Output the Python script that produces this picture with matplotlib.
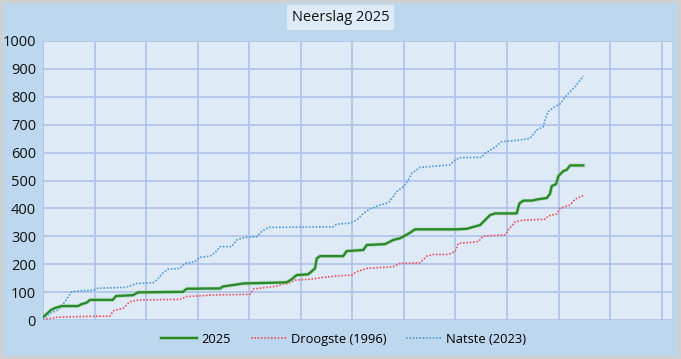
import matplotlib.pyplot as plt
import matplotlib.patheffects as pe
import numpy as np

# Cumulative precipitation (mm), x = day of year
days_2025 = [0, 4.7, 7, 10.9, 20.4, 22.5, 25.4, 27.3, 40.6, 42.5, 52.4, 55.3, 81.5, 83.6, 97.2,
             103, 104.7, 113.5, 116.4, 141.8, 144.7, 147.6, 154.4, 158.3, 159.3, 161.2, 174.7,
             176.7, 186.4, 188.4, 199, 201.9, 203.8, 207.7, 209.7, 213.6, 216.5, 240.7, 246.6,
             252.4, 254.3, 257.2, 260.1, 263, 275.6, 277.2, 279.5, 284.4, 288.2, 293.1, 295,
             296, 298.5, 299.9, 302.8, 304.7, 306.7, 314.4]
rain_2025 = [10, 36, 43, 50, 50, 57, 62, 72, 72, 86, 89, 99, 101, 112, 113,
             113, 120, 128, 131, 135, 146, 161, 164, 185, 221, 229, 229,
             247, 251, 269, 272, 281, 287, 293, 299, 313, 325, 325, 327,
             337, 340, 358, 376, 382, 382, 418, 428, 428, 433, 437, 452,
             480, 487, 516, 534, 538, 554, 554]

days_1996 = [0, 8, 26.4, 39, 40.9, 46.7, 50.6, 56.4, 79.7, 83.6, 100.1, 120.5, 122.4, 130.2,
             136.9, 138.9, 142.7, 146.6, 155.4, 163.1, 172.8, 179.6, 182.5, 188.4, 203.8, 207.7,
             219.4, 223.3, 227.1, 235.8, 239.7, 241.7, 248.5, 253.3, 256.2, 268.8, 270.8, 274.7,
             279.5, 292.1, 294.0, 298.9, 300.8, 306.7, 309.6, 314.4]
rain_1996 = [0, 10, 13, 14, 33, 42, 66, 72, 74, 84, 90, 92, 111, 117,
             122, 128, 131, 143, 146, 153, 159, 161, 173, 185, 191, 203,
             205, 229, 235, 235, 245, 275, 278, 281, 301, 305, 323, 352,
             358, 361, 373, 380, 400, 412, 433, 446]

days_2023 = [0, 4.1, 8.9, 12.8, 16.7, 20.5, 29.3, 32.2, 47.7, 50.6, 54.5, 64.2, 66.2, 70, 72.9,
             79.7, 82.6, 88.4, 91.4, 97.2, 100.1, 103, 109.8, 112.7, 117.5, 124.4, 127.2, 131.1,
             168.9, 170.9, 178.6, 182.5, 186.4, 190.3, 196.1, 200.9, 203.8, 205.8, 209.7, 212.6,
             214.6, 219.4, 236.8, 239.7, 242.7, 255.3, 257.2, 263, 266.9, 277.6, 283.4, 287.3,
             291.1, 292.1, 294, 297.9, 300.8, 304.7, 309.6, 314.4]
rain_2023 = [0, 24, 36, 66, 101, 104, 107, 114, 117, 122, 131, 134, 143, 170, 182,
             185, 203, 209, 225, 229, 241, 263, 263, 287, 296, 299, 317, 332,
             334, 344, 347, 358, 382, 398, 412, 420, 442, 460, 478, 502,
             526, 547, 556, 573, 582, 583, 597, 619, 639, 645, 651, 681,
             693, 717, 747, 765, 774, 806, 836, 875]

y_ticks = np.arange(0, 1001, 100)
x_grid = np.arange(0, 361, 30)

OUTER_BG = '#BDD7EE'
PLOT_BG = '#DEEBF7'
GRID = '#AFC5EA'

plt.rcParams['font.family'] = ['Open Sans', 'DejaVu Sans']

fig = plt.figure(figsize=(6.81, 3.59), dpi=100)
fig.patch.set_facecolor(OUTER_BG)
fig.patch.set_edgecolor('#D0D0D0')
fig.patch.set_linewidth(3)

ax = fig.add_axes([0.0631, 0.1086, 0.9237, 0.7772])
ax.set_facecolor(PLOT_BG)

ax.plot(days_2025, rain_2025, color='#2A8A2A', linewidth=1.7, solid_joinstyle='round',
        label='2025',
        path_effects=[pe.Stroke(linewidth=3.0, foreground='#A8D2A8', alpha=0.5), pe.Normal()], zorder=4)
ax.plot(days_1996, rain_1996, color='#F0505F', linewidth=1.2, linestyle=(0, (1, 1)),
        label='Droogste (1996)', zorder=3)
ax.plot(days_2023, rain_2023, color='#4F9AD8', linewidth=1.2, linestyle=(0, (1, 1)),
        label='Natste (2023)', zorder=3)

ax.set_xlim(0, 366)
ax.set_ylim(0, 1000)
ax.set_yticks(y_ticks)
ax.set_xticks(x_grid)
ax.set_xticklabels([])
ax.tick_params(axis='x', length=0)
ax.tick_params(axis='y', length=0, labelsize=10.5, colors='#111111', pad=5)
ax.grid(True, color=GRID, linewidth=1.3)
ax.set_axisbelow(True)
for s in ax.spines.values():
    s.set_visible(False)

fig.text(0.5, 0.952, 'Neerslag 2025', ha='center', va='center', fontsize=10.5, color='#111111',
         bbox=dict(facecolor=PLOT_BG, edgecolor='none', boxstyle='square,pad=0.35'))

fig.legend(loc='center', bbox_to_anchor=(0.505, 0.055), ncol=3, frameon=False,
           fontsize=9.3, handlelength=2.75, columnspacing=1.55, handletextpad=0.35)

fig.savefig('out.png', dpi=100, facecolor=fig.get_facecolor(), edgecolor=fig.get_edgecolor())
